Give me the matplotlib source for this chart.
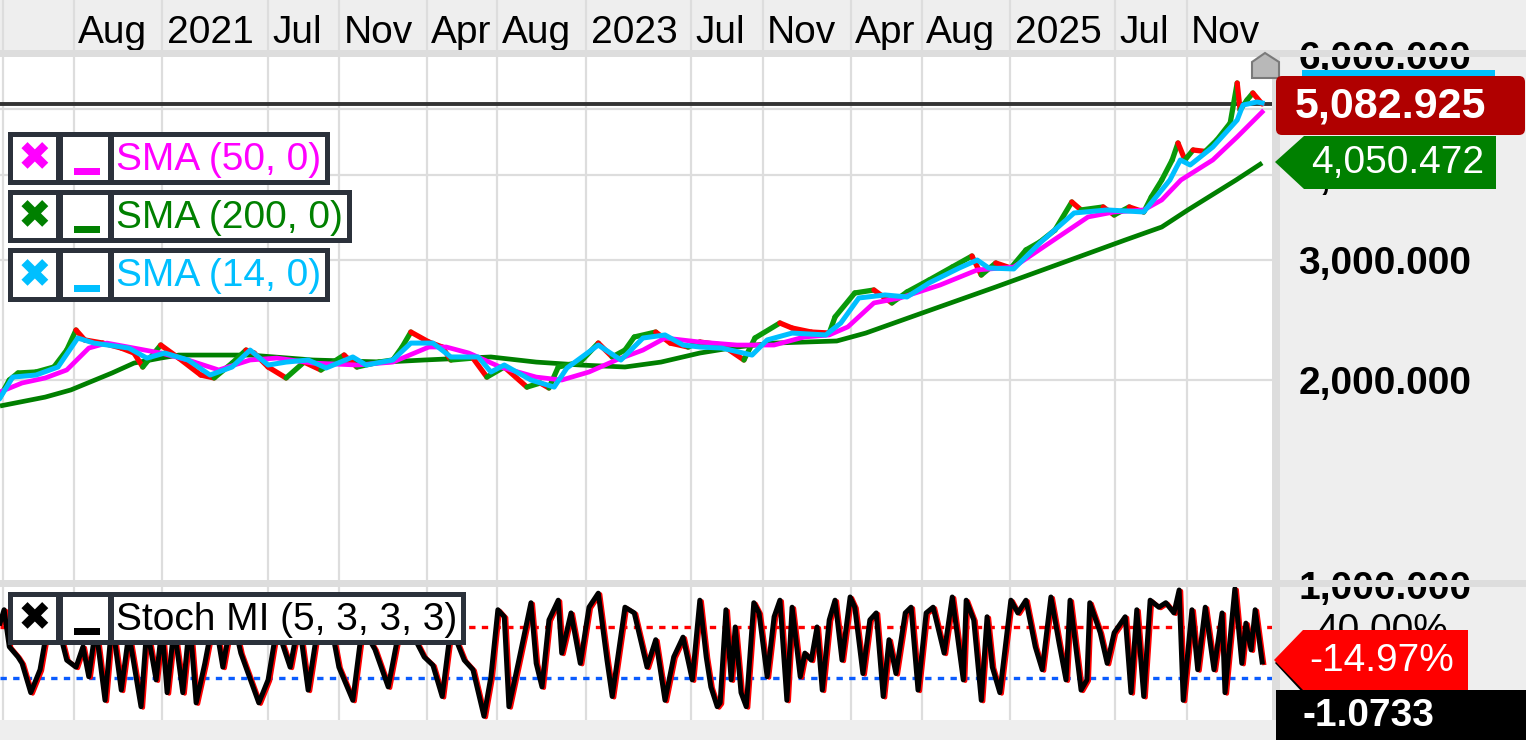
import numpy as np
import matplotlib
matplotlib.use('Agg')
import matplotlib.pyplot as plt
import matplotlib.dates as mdates
import matplotlib.transforms as mtransforms
from matplotlib.collections import LineCollection
from matplotlib.patches import Rectangle, Polygon, FancyBboxPatch
from matplotlib.ticker import FixedLocator, FixedFormatter, NullLocator, NullFormatter

plt.rcParams['font.family'] = ['Liberation Sans', 'DejaVu Sans']

# ---------------- data ----------------
START = np.datetime64('2020-03-27')
X_START = '2020-03-27'
X_END = '2026-03-28'

price_day = [0, 16, 31, 62, 93, 115, 131, 146, 177, 209, 231, 246, 277, 308, 346, 369, 400, 424, 438, 462,
             493, 524, 553, 593, 615, 653, 677, 693, 708, 739, 762, 777, 815, 839, 869, 908, 931, 946, 962, 1000,
             1031, 1055, 1077, 1093, 1130, 1155, 1186, 1206, 1244, 1282, 1301, 1344, 1365, 1398, 1429, 1439, 1473,
             1506, 1537, 1563, 1601, 1641, 1675, 1691, 1716, 1742, 1768, 1792, 1818, 1847, 1863, 1901, 1920, 1946,
             1971, 1984, 2002, 2020, 2030, 2042, 2056, 2077, 2097, 2120, 2132, 2137, 2149, 2159, 2175]
price_val = [1888, 2000, 2048, 2055, 2090, 2213, 2368, 2290, 2266, 2228, 2191, 2090, 2251, 2154, 2034, 2014, 2118,
             2213, 2191, 2090, 2014, 2125, 2069, 2176, 2090, 2125, 2140, 2236, 2352, 2274, 2236, 2140, 2154, 2020,
             2090, 1953, 1980, 1947, 2090, 2125, 2266, 2162, 2213, 2313, 2352, 2266, 2236, 2274, 2251, 2140, 2305,
             2425, 2384, 2352, 2344, 2475, 2684, 2711, 2595, 2693, 2804, 2930, 3041, 2852, 2970, 2920, 3104, 3189,
             3320, 3650, 3553, 3589, 3493, 3589, 3529, 3712, 3931, 4207, 4455, 4207, 4351, 4330, 4501, 4767, 5456,
             4981, 5152, 5275, 5082.925]

sma50_day = [0, 38, 78, 115, 153, 184, 231, 277, 324, 377, 431, 477, 539, 615, 677, 739, 769, 808, 862, 924, 968,
             1015, 1062, 1108, 1146, 1206, 1270, 1334, 1386, 1429, 1461, 1506, 1551, 1620, 1684, 1747, 1811, 1875,
             1920, 1971, 2002, 2035, 2090, 2132, 2175]
sma50_val = [1921, 1980, 2014, 2069, 2228, 2266, 2228, 2191, 2140, 2069, 2140, 2154, 2118, 2104, 2125, 2236, 2236,
             2191, 2090, 2020, 2000, 2055, 2140, 2213, 2305, 2274, 2251, 2251, 2313, 2329, 2393, 2595, 2639, 2757,
             2901, 2930, 3189, 3470, 3529, 3553, 3675, 3931, 4207, 4547, 4947]

sma200_day = [0, 78, 122, 193, 231, 277, 308, 431, 539, 662, 731, 846, 924, 1000, 1077, 1139, 1206, 1270, 1334,
              1442, 1492, 1589, 1716, 1844, 1939, 2002, 2047, 2130, 2175]
sma200_val = [1832, 1888, 1934, 2048, 2118, 2154, 2176, 2176, 2140, 2125, 2140, 2162, 2125, 2104, 2090, 2125, 2191,
              2236, 2266, 2282, 2344, 2508, 2739, 3000, 3210, 3354, 3553, 3931, 4164]

sma14_day = [0, 22, 62, 100, 134, 162, 222, 253, 284, 324, 362, 400, 431, 462, 493, 531, 562, 608, 631, 677, 708,
             746, 777, 824, 846, 869, 915, 955, 977, 1031, 1070, 1108, 1146, 1177, 1206, 1244, 1296, 1322, 1365,
             1423, 1449, 1480, 1525, 1563, 1601, 1653, 1684, 1704, 1747, 1792, 1851, 1908, 1971, 2016, 2034, 2051,
             2090, 2132, 2142, 2166, 2175]
sma14_val = [1882, 2020, 2034, 2090, 2305, 2266, 2228, 2154, 2191, 2140, 2034, 2090, 2213, 2104, 2125, 2140, 2083,
             2162, 2104, 2140, 2266, 2266, 2162, 2162, 2055, 2104, 2000, 1953, 2083, 2251, 2140, 2305, 2329, 2251,
             2236, 2228, 2176, 2290, 2344, 2329, 2425, 2639, 2666, 2648, 2776, 2920, 3000, 2920, 2911, 3178, 3517,
             3553, 3529, 3931, 4207, 4136, 4395, 4815, 5065, 5117, 5100]

stoch_day = [0, 7, 16, 31, 38, 53, 69, 78, 95, 115,
             131, 143, 153, 165, 181, 193, 209, 222, 243, 253,
             269, 279, 288, 300, 315, 327, 338, 353, 369, 384,
             400, 415, 446, 462, 477, 500, 515, 531, 546, 569,
             584, 608, 624, 646, 669, 693, 731, 746, 762, 777,
             800, 815, 834, 846, 858, 869, 877, 893, 915, 924,
             934, 946, 962, 968, 984, 1000, 1015, 1031, 1046, 1055,
             1077, 1093, 1115, 1130, 1146, 1161, 1177, 1193, 1206, 1217,
             1225, 1236, 1241, 1251, 1260, 1267, 1277, 1286, 1299, 1308,
             1322, 1334, 1344, 1356, 1365, 1379, 1387, 1398, 1408, 1417,
             1429, 1439, 1451, 1465, 1473, 1487, 1499, 1510, 1522, 1532,
             1544, 1560, 1570, 1582, 1596, 1608, 1627, 1641, 1660, 1665,
             1678, 1691, 1701, 1710, 1723, 1742, 1754, 1768, 1784, 1796,
             1811, 1825, 1837, 1844, 1863, 1873, 1878, 1896, 1908, 1920,
             1939, 1949, 1959, 1971, 1982, 1997, 2009, 2023, 2032, 2039,
             2054, 2064, 2077, 2092, 2106, 2111, 2128, 2140, 2147, 2156,
             2163, 2175]
stoch_val = [46, 67, 9, -7, -17, -63, -27, 20, 60, -12,
             -23, 9, -38, 40, -75, 50, -59, 30, -85, 40,
             -43, 40, -63, 40, -63, 50, -79, -17, 60, -23,
             60, -1, -79, -43, 40, -23, 50, -59, 30, 50,
             -23, -75, 40, 5, -54, 60, -7, -20, -69, 40,
             -12, -27, -100, -38, 67, 56, -85, -17, 78, -17,
             -54, 51, 82, -1, 62, -17, 71, 93, -12, -69,
             71, 62, -23, 20, -75, -7, 24, -43, 82, -7,
             -54, -85, -79, 67, -43, 40, -63, -85, 78, 62,
             -38, 56, 82, -75, 71, -38, -1, -12, 40, -59,
             51, 82, -12, 87, 71, -33, 51, 62, -69, 20,
             -33, 62, 71, -59, 62, 71, -1, 87, -43, 82,
             51, -75, 56, -23, -63, 82, 62, 82, 9, -27,
             87, 15, -43, 82, -59, -43, 78, 31, -17, 31,
             56, -63, 67, -69, 82, 71, 78, 62, 98, -75,
             67, -27, 71, -27, 62, -63, 100, -17, 46, 4,
             67, -14.97]

tick_dates = ['2020-04-01', '2020-08-01', '2021-01-01', '2021-07-01', '2021-11-01', '2022-04-01', '2022-08-01',
              '2023-01-01', '2023-07-01', '2023-11-01', '2024-04-01', '2024-08-01', '2025-01-01', '2025-07-01',
              '2025-11-01']
tick_labels = ['', 'Aug', '2021', 'Jul', 'Nov', 'Apr', 'Aug', '2023', 'Jul', 'Nov', 'Apr', 'Aug', '2025', 'Jul',
               'Nov']

price_ticks = [1000, 2000, 3000, 4000, 5000, 6000]
price_tick_labels = ['1,000.000', '2,000.000', '3,000.000', '4,000.000', '5,000.000', '6,000.000']
stoch_ticks = [40, -40]
stoch_tick_labels = ['40.00%', '-40.00%']

last_price = 5082.925
last_price_label = '5,082.925'
sma200_label = '4,050.472'
stoch_label = '-14.97%'
extra_label = '-1.0733'

legend_entries = [('SMA (50, 0)', '#ff00ff'), ('SMA (200, 0)', '#008000'), ('SMA (14, 0)', '#00bfff')]
stoch_legend = 'Stoch MI (5, 3, 3, 3)'

# ---------------- figure ----------------
W, H = 1526, 740
fig = plt.figure(figsize=(W / 100, H / 100), dpi=100, facecolor='#eeeeee')


def fr(x0, y0, x1, y1):
    return [x0 / W, 1 - y1 / H, (x1 - x0) / W, (y1 - y0) / H]


def to_dates(days):
    return START + np.array(days, dtype='timedelta64[D]')


GRID = '#dddddd'
xnum = mdates.date2num(np.array(tick_dates, dtype='datetime64[D]'))
xlim = mdates.date2num(np.array([X_START, X_END], dtype='datetime64[D]'))

ax_strip = fig.add_axes(fr(0, 0, 1272, 50), facecolor='#eeeeee', zorder=0)
ax = fig.add_axes(fr(0, 50, 1272, 587), facecolor='white', zorder=1)
ax2 = fig.add_axes(fr(0, 587, 1272, 720), facecolor='white', zorder=1)

for a in (ax_strip, ax, ax2):
    for s in a.spines.values():
        s.set_visible(False)
    a.set_xlim(*xlim)
    a.set_xticks(xnum)
    a.grid(axis='x', color=GRID, lw=1.6)
    a.set_axisbelow(True)

ax_strip.set_yticks([])
ax_strip.tick_params(axis='x', length=0, labelbottom=False)

# ---- main price panel ----
ax.set_yscale('log')
ax.set_ylim(993.8, 6100)
ax.yaxis.set_major_locator(FixedLocator(price_ticks))
ax.yaxis.set_major_formatter(FixedFormatter(price_tick_labels))
ax.yaxis.set_minor_locator(NullLocator())
ax.yaxis.set_minor_formatter(NullFormatter())
ax.yaxis.tick_right()
ax.tick_params(axis='y', which='both', length=0, pad=19, labelsize=28, labelright=True, labelleft=False)
for t in ax.get_yticklabels():
    t.set_fontweight('bold')
ax.grid(axis='y', color=GRID, lw=1.6)

ax.set_xticklabels(tick_labels, ha='left')
ax.tick_params(axis='x', length=0, labelbottom=False, labeltop=True, pad=-0.8, labelsize=28)
shift = mtransforms.ScaledTranslation(0.045, 0, fig.dpi_scale_trans)
for lab in ax.xaxis.get_ticklabels():
    lab.set_transform(lab.get_transform() + shift)

d200 = mdates.date2num(to_dates(sma200_day))
ax.plot(d200, sma200_val, color='#007f00', lw=3.4, zorder=3, solid_capstyle='butt')

pd_ = mdates.date2num(to_dates(price_day))
pv = np.array(price_val, dtype=float)
segs = [[(pd_[i], pv[i]), (pd_[i + 1], pv[i + 1])] for i in range(len(pv) - 1)]
cols = ['#0a9a0a' if pv[i + 1] >= pv[i] else '#ff0000' for i in range(len(pv) - 1)]
ax.add_collection(LineCollection(segs, colors=cols, linewidths=3.8, zorder=4, capstyle='round'))

ax.plot(mdates.date2num(to_dates(sma50_day)), sma50_val, color='#ff00ff', lw=3.4, zorder=5)
ax.plot(mdates.date2num(to_dates(sma14_day)), sma14_val, color='#00bfff', lw=3.6, zorder=6)
ax.axhline(last_price, color='#333333', lw=2.8, zorder=2)

# ---- stochastic panel ----
ax2.set_ylim(-105.9, 102.7)
ax2.yaxis.tick_right()
ax2.set_yticks(stoch_ticks)
ax2.set_yticklabels(stoch_tick_labels)
ax2.tick_params(axis='y', length=0, pad=32, labelsize=28, labelright=True, labelleft=False)
ax2.tick_params(axis='x', length=0, labelbottom=False)
sd = mdates.date2num(to_dates(stoch_day))
shadow = mtransforms.offset_copy(ax2.transData, fig=fig, x=2, y=-1, units='dots')
ax2.plot(sd, stoch_val, color='#ff0000', lw=3, transform=shadow, zorder=3)
ax2.plot(sd, stoch_val, color='black', lw=3.6, zorder=4)
ax2.axhline(40, color='#ff0000', lw=2.4, ls=(0, (1.9, 1.9)), zorder=2)
ax2.axhline(-40, color='#0a5cff', lw=2.4, ls=(0, (1.9, 1.9)), zorder=2)

# ---------------- overlay (pixel coords) ----------------
ov = fig.add_axes([0, 0, 1, 1], zorder=10)
ov.set_xlim(0, W)
ov.set_ylim(H, 0)
ov.axis('off')
ov.patch.set_alpha(0)

# separator bands
ov.add_patch(Rectangle((0, 50), W, 7, color='#dddddd', lw=0))
ov.add_patch(Rectangle((0, 580), W, 7, color='#dddddd', lw=0))
ov.add_patch(Rectangle((1272, 50), 8, 670, color='#dddddd', lw=0))

DARK = '#2b313b'


def legend_row(y0, y1, x1, text, color):
    ov.add_patch(Rectangle((8, y0), x1 - 8, y1 - y0, color=DARK, lw=0))
    ov.add_patch(Rectangle((13, y0 + 5), 43, y1 - y0 - 10, color='white', lw=0))
    ov.add_patch(Rectangle((63, y0 + 5), 45, y1 - y0 - 10, color='white', lw=0))
    ov.add_patch(Rectangle((114, y0 + 5), x1 - 5 - 114, y1 - y0 - 10, color='white', lw=0))
    yc = (y0 + y1) / 2
    ov.text(34, yc + 1, '\u2716', color=color, fontsize=29, ha='center', va='center', family='DejaVu Sans')
    ov.add_patch(Rectangle((74, y1 - 17), 26, 7, color=color, lw=0))
    ov.text(116, yc + 1, text, color=color, fontsize=28, ha='left', va='center')


legend_row(132, 185, 330, *legend_entries[0])
legend_row(190, 243, 352, *legend_entries[1])
legend_row(248, 302, 330, *legend_entries[2])
legend_row(592, 645, 466, stoch_legend, 'black')

# home marker
ov.add_patch(Polygon([(1252, 78), (1252, 62), (1265, 53), (1279, 62), (1279, 78)], closed=True,
                     fc='#b8b8b8', ec='#7a7a7a', lw=1.5))
# hidden cyan SMA14 label
ov.add_patch(Rectangle((1302, 70), 193, 55, color='#00bfff', lw=0))
# last price label
ov.add_patch(FancyBboxPatch((1276, 76), 249, 59, boxstyle='round,pad=0,rounding_size=6', fc='#b00000', ec='none'))
ov.text(1390, 106, last_price_label, color='white', fontsize=31, fontweight='bold', ha='center', va='center')
# SMA200 label
ov.add_patch(Polygon([(1275, 162), (1304, 136), (1496, 136), (1496, 189), (1304, 189)], closed=True,
                     fc='#008000', ec='none'))
ov.text(1398, 163, sma200_label, color='white', fontsize=28, ha='center', va='center')
# stoch label (with thin shadow on the lower diagonal)
ov.add_patch(Polygon([(1275, 663), (1303, 633), (1468, 633), (1468, 693), (1303, 693)], closed=True,
                     fc='black', ec='none'))
ov.add_patch(Polygon([(1274, 660), (1303, 630), (1468, 630), (1468, 690), (1303, 690)], closed=True,
                     fc='#ff0000', ec='none'))
ov.text(1382, 661, stoch_label, color='white', fontsize=28, ha='center', va='center')
# extra black label
ov.add_patch(Rectangle((1276, 690), 250, 50, color='black', lw=0))
ov.text(1302, 716, extra_label, color='white', fontsize=28, fontweight='bold', ha='left', va='center')

fig.savefig('out.png', dpi=100, facecolor=fig.get_facecolor())
